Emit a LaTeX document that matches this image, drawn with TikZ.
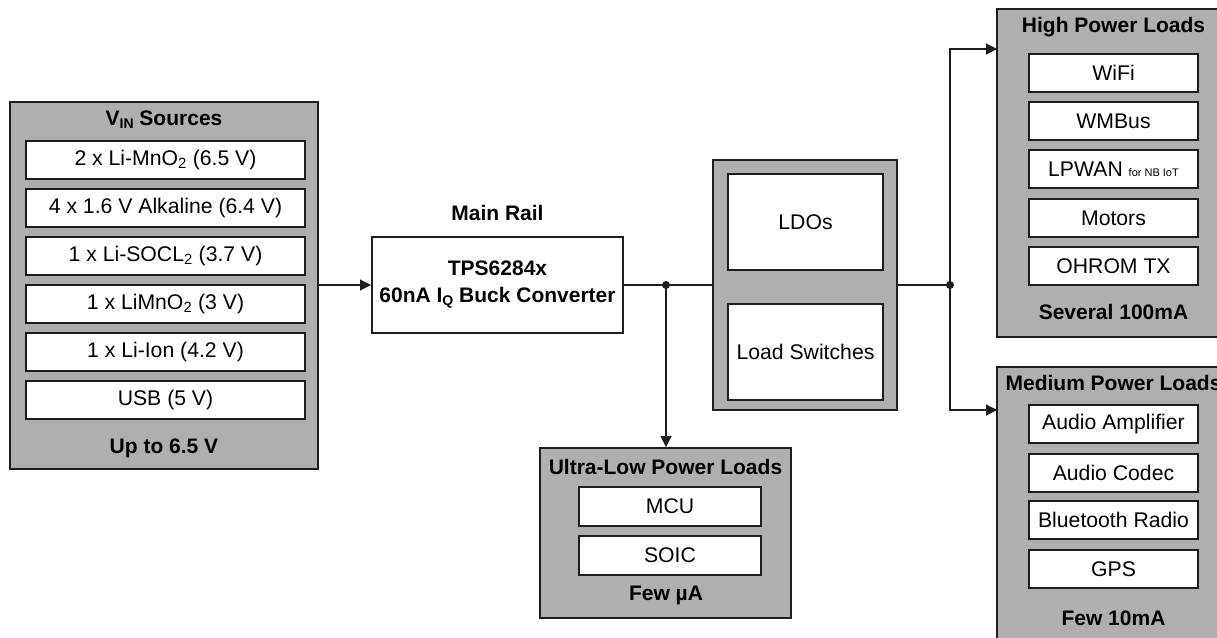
\documentclass[tikz,border=0pt]{standalone}
\usepackage{fontspec}
\setmainfont{Liberation Sans}
\usetikzlibrary{arrows.meta}
\definecolor{grayfill}{RGB}{175,175,175}
\definecolor{linec}{RGB}{30,30,30}
\tikzset{
  blk/.style={draw=linec, line width=2pt, fill=grayfill, inner sep=0pt},
  itm/.style={draw=linec, line width=2pt, fill=white, inner sep=0pt, font=\fontsize{21.2}{24}\selectfont},
  ttl/.style={inner sep=0pt, font=\fontsize{21}{24}\selectfont\bfseries},
  conn/.style={draw=linec, line width=1.2pt},
  arr/.style={conn, -{Triangle[length=11pt,width=11pt]}},
  dot/.style={circle, fill=linec, inner sep=0pt, minimum size=8pt}
}
\begin{document}
\begin{tikzpicture}[x=1pt,y=-1pt]
\useasboundingbox (0,0) rectangle (1217,637);
\clip (0,0) rectangle (1217,637);
\fill[white] (0,0) rectangle (1217,637);

% ---- V_IN sources
\node[blk, minimum width=308pt, minimum height=367pt] (src) at (164,285.3) {};
\node[ttl] (srcT) at (164,120) {V{\fontsize{14}{16}\selectfont\raisebox{-3pt}{IN}} Sources};
\node[itm, minimum width=279pt, minimum height=38pt] (s1) at (165.5,160) {2 x Li-MnO\textsubscript{2} (6.5 V)};
\node[itm, minimum width=279pt, minimum height=38pt] (s2) at (165.5,208) {4 x 1.6 V Alkaline (6.4 V)};
\node[itm, minimum width=279pt, minimum height=38pt] (s3) at (165.5,256) {1 x Li-SOCL\textsubscript{2} (3.7 V)};
\node[itm, minimum width=279pt, minimum height=38pt] (s4) at (165.5,304) {1 x LiMnO\textsubscript{2} (3 V)};
\node[itm, minimum width=279pt, minimum height=38pt] (s5) at (165.5,352) {1 x Li-Ion (4.2 V)};
\node[itm, minimum width=279pt, minimum height=38pt] (s6) at (165.5,400) {USB (5 V)};
\node[ttl] (srcB) at (164,448) {Up to 6.5 V};

% ---- Buck converter
\node[ttl] (railT) at (497.5,213) {Main Rail};
\node[itm, minimum width=251pt, minimum height=96pt, align=center, font=\fontsize{21}{27}\selectfont\bfseries] (buck) at (497.5,285) {TPS6284x\\60nA I{\fontsize{14}{16}\selectfont\raisebox{-3pt}{Q}} Buck Converter};

% ---- LDO / load switches
\node[blk, minimum width=184pt, minimum height=250pt] (ldo) at (805,285) {};
\node[itm, minimum width=155pt, minimum height=96pt] (ldoA) at (805.5,222) {LDOs};
\node[itm, minimum width=155pt, minimum height=96pt] (ldoB) at (805.5,352) {Load Switches};

% ---- Ultra-low power loads
\node[blk, minimum width=251pt, minimum height=170pt] (ulp) at (665.5,533) {};
\node[ttl] (ulpT) at (665.5,467) {Ultra-Low Power Loads};
\node[itm, minimum width=182pt, minimum height=39pt] (u1) at (670,506.5) {MCU};
\node[itm, minimum width=182pt, minimum height=39pt] (u2) at (670,555) {SOIC};
\node[ttl] (ulpB) at (666,595) {Few µA};

% ---- High power loads
\node[blk, minimum width=233pt, minimum height=327.4pt] (hp) at (1113.5,173) {};
\node[ttl] (hpT) at (1113.5,27) {High Power Loads};
\node[itm, minimum width=169pt, minimum height=38pt] (h1) at (1113.5,72.8) {WiFi};
\node[itm, minimum width=169pt, minimum height=38pt] (h2) at (1113.5,121) {WMBus};
\node[itm, minimum width=169pt, minimum height=38pt] (h3) at (1113.5,169.4) {LPWAN {\fontsize{11}{12}\selectfont for NB IoT}};
\node[itm, minimum width=169pt, minimum height=38pt] (h4) at (1113.5,217.9) {Motors};
\node[itm, minimum width=169pt, minimum height=38pt] (h5) at (1113.5,266) {OHROM TX};
\node[ttl] (hpB) at (1113.5,312) {Several 100mA};

% ---- Medium power loads
\node[blk, minimum width=233pt, minimum height=300pt] (mp) at (1113.5,516.7) {};
\node[ttl] (mpT) at (1113.5,383) {Medium Power Loads};
\node[itm, minimum width=169pt, minimum height=38pt] (m1) at (1113.5,424.4) {Audio Amplifier};
\node[itm, minimum width=169pt, minimum height=38pt] (m2) at (1113.5,472.5) {Audio Codec};
\node[itm, minimum width=169pt, minimum height=38pt] (m3) at (1113.5,520.4) {Bluetooth Radio};
\node[itm, minimum width=169pt, minimum height=38pt] (m4) at (1113.5,569) {GPS};
\node[ttl] (mpB) at (1113.5,618) {Few 10mA};

% ---- connectors
\coordinate (j1) at (666,285);
\coordinate (j2) at (950,285);
\draw[arr] (src.east |- buck.west) -- (buck.west);
\draw[conn] (buck.east) -- (j1) -- (ldo.west |- j1);
\node[dot] (d1) at (j1) {};
\draw[arr] (j1) -- (j1 |- ulp.north);
\draw[conn] (ldo.east |- j2) -- (j2);
\node[dot] (d2) at (j2) {};
\coordinate (hpIn) at (997,49);
\coordinate (mpIn) at (997,410);
\draw[arr] (j2) -- (j2 |- hpIn) -- (hpIn);
\draw[arr] (j2) -- (j2 |- mpIn) -- (mpIn);
\end{tikzpicture}
\end{document}
